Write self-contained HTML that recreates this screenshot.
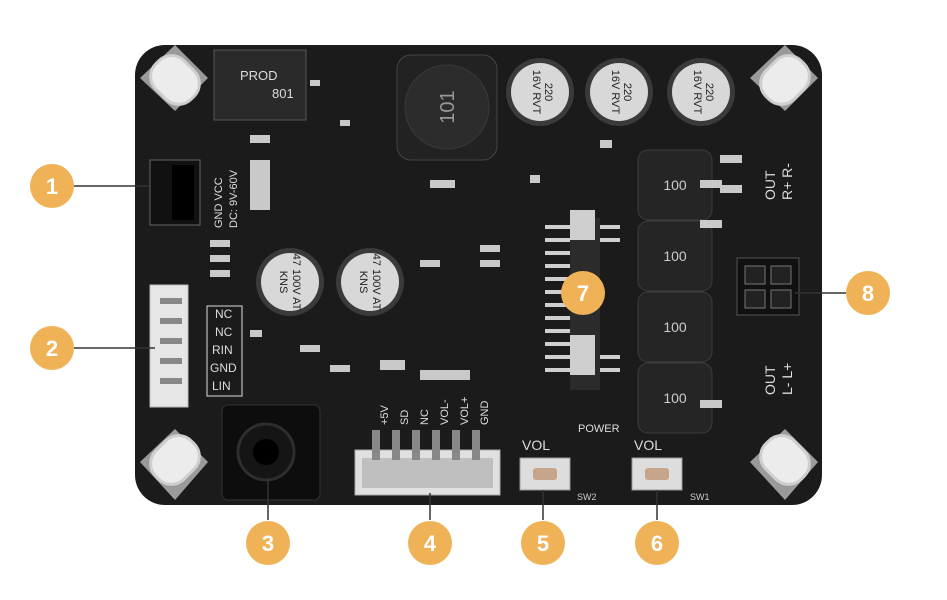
<!DOCTYPE html>
<html><head><meta charset="utf-8"><style>
html,body{margin:0;padding:0;background:#fff;}
svg{display:block;font-family:"Liberation Sans",sans-serif;}
</style></head><body>
<svg width="947" height="600" viewBox="0 0 947 600" xmlns="http://www.w3.org/2000/svg">
<rect width="947" height="600" fill="#fff"/>
<!-- board -->
<rect x="135" y="45" width="687" height="460" rx="30" fill="#1b1b1b"/>
<!-- corner holes -->
<g fill="#9a9a9a">
<polygon points="140,78 175,45 208,78 175,111"/>
<polygon points="750,78 785,45 818,78 785,111"/>
<polygon points="140,462 175,429 208,462 175,500"/>
<polygon points="750,462 785,429 818,462 785,500"/>
</g>
<g fill="#ececec" stroke="#cfcfcf" stroke-width="3">
<rect x="150" y="60" width="50" height="40" rx="18" transform="rotate(45 175 80)"/>
<rect x="760" y="60" width="50" height="40" rx="18" transform="rotate(-45 785 80)"/>
<rect x="150" y="440" width="50" height="40" rx="18" transform="rotate(-45 175 460)"/>
<rect x="760" y="440" width="50" height="40" rx="18" transform="rotate(45 785 460)"/>
</g>
<!-- PROD chip -->
<rect x="214" y="50" width="92" height="70" fill="#2a2a2a" stroke="#555"/>
<text x="240" y="80" fill="#ddd" font-size="13">PROD</text>
<text x="272" y="98" fill="#ddd" font-size="13">801</text>
<!-- big inductor 101 -->
<rect x="397" y="55" width="100" height="105" rx="14" fill="#222" stroke="#444"/>
<circle cx="447" cy="107" r="42" fill="#2c2c2c" stroke="#3a3a3a"/>
<text x="447" y="114" fill="#999" font-size="20" text-anchor="middle" transform="rotate(-90 447 107)">101</text>
<!-- electrolytic caps top -->
<g>
<circle cx="540" cy="92" r="34" fill="#3a3a3a"/><circle cx="540" cy="92" r="29" fill="#d8d8d8"/>
<circle cx="619" cy="92" r="34" fill="#3a3a3a"/><circle cx="619" cy="92" r="29" fill="#d8d8d8"/>
<circle cx="701" cy="92" r="34" fill="#3a3a3a"/><circle cx="701" cy="92" r="29" fill="#d8d8d8"/>
</g>
<g font-size="11" fill="#222" text-anchor="middle">
<text transform="translate(540,92) rotate(90)" y="-5">220</text><text transform="translate(540,92) rotate(90)" y="7">16V RVT</text>
<text transform="translate(619,92) rotate(90)" y="-5">220</text><text transform="translate(619,92) rotate(90)" y="7">16V RVT</text>
<text transform="translate(701,92) rotate(90)" y="-5">220</text><text transform="translate(701,92) rotate(90)" y="7">16V RVT</text>
</g>
<!-- caps mid -->
<circle cx="290" cy="282" r="34" fill="#3a3a3a"/><circle cx="290" cy="282" r="29" fill="#d8d8d8"/>
<circle cx="370" cy="282" r="34" fill="#3a3a3a"/><circle cx="370" cy="282" r="29" fill="#d8d8d8"/>
<g font-size="11" fill="#222" text-anchor="middle">
<text transform="translate(290,282) rotate(90)" y="-3">47 100V AT</text><text transform="translate(290,282) rotate(90)" y="10">KNS</text>
<text transform="translate(370,282) rotate(90)" y="-3">47 100V AT</text><text transform="translate(370,282) rotate(90)" y="10">KNS</text>
</g>
<!-- inductors 100 -->
<g fill="#252525" stroke="#3d3d3d">
<rect x="638" y="150" width="74" height="70" rx="10"/>
<rect x="638" y="221" width="74" height="70" rx="10"/>
<rect x="638" y="292" width="74" height="70" rx="10"/>
<rect x="638" y="363" width="74" height="70" rx="10"/>
</g>
<g fill="#ccc" font-size="14" text-anchor="middle">
<text x="675" y="190">100</text><text x="675" y="261">100</text><text x="675" y="332">100</text><text x="675" y="403">100</text>
</g>
<!-- U1 chip -->
<rect x="570" y="218" width="30" height="172" fill="#2b2b2b"/>
<g fill="#cfcfcf">
<rect x="545" y="225" width="25" height="4"/><rect x="545" y="238" width="25" height="4"/><rect x="545" y="251" width="25" height="4"/><rect x="545" y="264" width="25" height="4"/><rect x="545" y="277" width="25" height="4"/><rect x="545" y="290" width="25" height="4"/><rect x="545" y="303" width="25" height="4"/><rect x="545" y="316" width="25" height="4"/><rect x="545" y="329" width="25" height="4"/><rect x="545" y="342" width="25" height="4"/><rect x="545" y="355" width="25" height="4"/><rect x="545" y="368" width="25" height="4"/>
<rect x="600" y="225" width="20" height="4"/><rect x="600" y="238" width="20" height="4"/><rect x="600" y="355" width="20" height="4"/><rect x="600" y="368" width="20" height="4"/>
<rect x="570" y="210" width="25" height="30"/><rect x="570" y="335" width="25" height="40"/>
</g>
<!-- J2 left connector -->
<rect x="150" y="285" width="38" height="122" fill="#e6e6e6" stroke="#bbb"/>
<g fill="#888"><rect x="160" y="298" width="22" height="6"/><rect x="160" y="318" width="22" height="6"/><rect x="160" y="338" width="22" height="6"/><rect x="160" y="358" width="22" height="6"/><rect x="160" y="378" width="22" height="6"/></g>
<g fill="#ddd" font-size="12"><text x="215" y="318">NC</text><text x="215" y="336">NC</text><text x="212" y="354">RIN</text><text x="210" y="372">GND</text><text x="212" y="390">LIN</text></g>
<g stroke="#ddd" fill="none"><rect x="207" y="306" width="35" height="90"/></g>
<!-- J6 -->
<rect x="150" y="160" width="50" height="65" fill="#111" stroke="#666"/>
<rect x="172" y="165" width="22" height="55" fill="#000"/>
<text transform="translate(222,228) rotate(-90)" fill="#ddd" font-size="11">GND VCC</text>
<text transform="translate(237,228) rotate(-90)" fill="#ddd" font-size="11">DC: 9V-60V</text>
<!-- audio jack -->
<rect x="222" y="405" width="98" height="95" rx="6" fill="#0d0d0d" stroke="#333"/>
<circle cx="266" cy="452" r="28" fill="#151515" stroke="#2e2e2e" stroke-width="3"/>
<circle cx="266" cy="452" r="13" fill="#000"/>
<!-- J3 connector -->
<rect x="355" y="450" width="145" height="45" fill="#e0e0e0" stroke="#aaa"/>
<rect x="362" y="458" width="131" height="30" fill="#bfbfbf"/>
<g fill="#888"><rect x="372" y="430" width="8" height="30"/><rect x="392" y="430" width="8" height="30"/><rect x="412" y="430" width="8" height="30"/><rect x="432" y="430" width="8" height="30"/><rect x="452" y="430" width="8" height="30"/><rect x="472" y="430" width="8" height="30"/></g>
<g fill="#ddd" font-size="11"><text transform="translate(388,425) rotate(-90)">+5V</text><text transform="translate(408,425) rotate(-90)">SD</text><text transform="translate(428,425) rotate(-90)">NC</text><text transform="translate(448,425) rotate(-90)">VOL-</text><text transform="translate(468,425) rotate(-90)">VOL+</text><text transform="translate(488,425) rotate(-90)">GND</text></g>
<!-- buttons -->
<rect x="520" y="458" width="50" height="32" fill="#ddd" stroke="#999"/><rect x="533" y="468" width="24" height="12" rx="3" fill="#c7a58a"/>
<rect x="632" y="458" width="50" height="32" fill="#ddd" stroke="#999"/><rect x="645" y="468" width="24" height="12" rx="3" fill="#c7a58a"/>
<g fill="#ddd" font-size="14"><text x="522" y="450">VOL</text><text x="634" y="450">VOL</text></g>
<text x="578" y="432" fill="#ddd" font-size="11">POWER</text>
<text x="577" y="500" fill="#ccc" font-size="9">SW2</text><text x="690" y="500" fill="#ccc" font-size="9">SW1</text>
<!-- J4 -->
<rect x="737" y="258" width="62" height="57" fill="#111" stroke="#555"/>
<g fill="#222" stroke="#777"><rect x="745" y="266" width="20" height="18"/><rect x="771" y="266" width="20" height="18"/><rect x="745" y="290" width="20" height="18"/><rect x="771" y="290" width="20" height="18"/></g>
<g fill="#ddd" font-size="14"><text transform="translate(775,200) rotate(-90)">OUT</text><text transform="translate(792,200) rotate(-90)">R+ R-</text><text transform="translate(775,395) rotate(-90)">OUT</text><text transform="translate(792,395) rotate(-90)">L- L+</text></g>
<!-- small SMD parts -->
<g fill="#c9c9c9">
<rect x="310" y="80" width="10" height="6"/><rect x="340" y="120" width="10" height="6"/><rect x="250" y="135" width="20" height="8"/><rect x="210" y="240" width="20" height="7"/><rect x="210" y="255" width="20" height="7"/><rect x="210" y="270" width="20" height="7"/><rect x="420" y="260" width="20" height="7"/><rect x="480" y="245" width="20" height="7"/><rect x="480" y="260" width="20" height="7"/><rect x="430" y="180" width="25" height="8"/><rect x="700" y="180" width="22" height="8"/><rect x="700" y="220" width="22" height="8"/><rect x="700" y="400" width="22" height="8"/><rect x="720" y="155" width="22" height="8"/><rect x="720" y="185" width="22" height="8"/><rect x="300" y="345" width="20" height="7"/><rect x="330" y="365" width="20" height="7"/><rect x="380" y="360" width="25" height="10"/><rect x="420" y="370" width="50" height="10"/><rect x="250" y="330" width="12" height="7"/><rect x="600" y="140" width="12" height="8"/><rect x="530" y="175" width="10" height="8"/><rect x="250" y="160" width="20" height="50"/>
</g>
<!-- leader lines -->
<g stroke="#333" stroke-width="1.5">
<line x1="74" y1="186" x2="150" y2="186"/><line x1="74" y1="348" x2="155" y2="348"/>
<line x1="268" y1="520" x2="268" y2="478"/><line x1="430" y1="520" x2="430" y2="493"/>
<line x1="543" y1="520" x2="543" y2="490"/><line x1="657" y1="520" x2="657" y2="490"/>
<line x1="846" y1="293" x2="795" y2="293"/>
</g>
<!-- orange numbered circles -->
<g fill="#f0b257">
<circle cx="52" cy="186" r="22"/><circle cx="52" cy="348" r="22"/><circle cx="268" cy="543" r="22"/><circle cx="430" cy="543" r="22"/><circle cx="543" cy="543" r="22"/><circle cx="657" cy="543" r="22"/><circle cx="583" cy="293" r="22"/><circle cx="868" cy="293" r="22"/>
</g>
<g fill="#fff" font-size="22" font-weight="bold" text-anchor="middle">
<text x="52" y="194">1</text><text x="52" y="356">2</text><text x="268" y="551">3</text><text x="430" y="551">4</text><text x="543" y="551">5</text><text x="657" y="551">6</text><text x="583" y="301">7</text><text x="868" y="301">8</text>
</g>
</svg>
</body></html>
